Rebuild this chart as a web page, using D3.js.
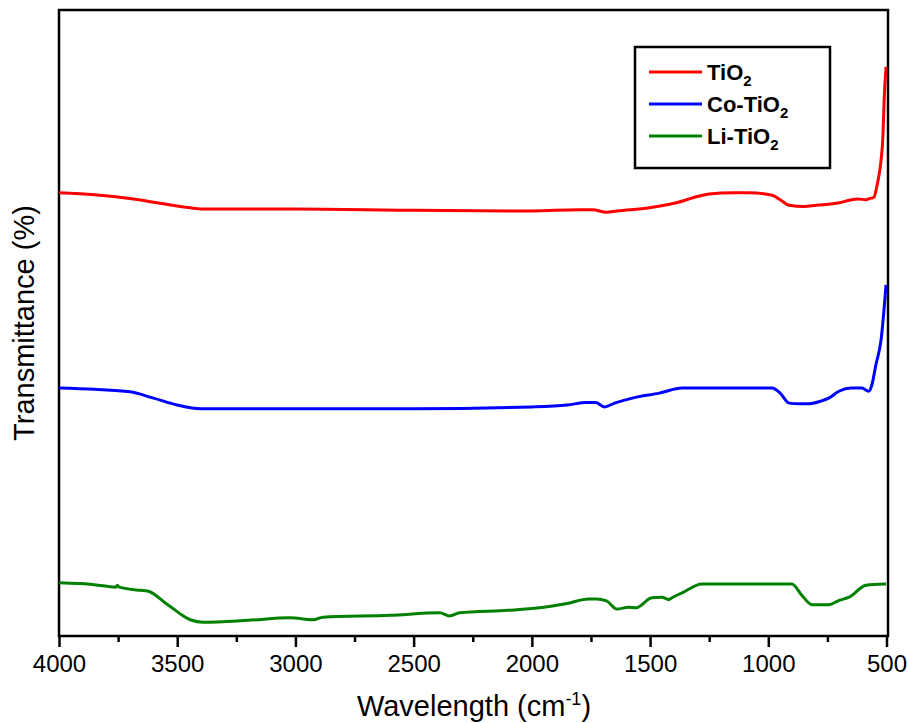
<!DOCTYPE html>
<html>
<head>
<meta charset="utf-8">
<script src="https://cdn.jsdelivr.net/npm/d3@7"></script>
<style>
  body { margin: 0; background: #fff; }
  text { font-family: Arial, "Liberation Sans", sans-serif; }
</style>
</head>
<body>
<div id="chart"></div>
<script>
/* DATA (wavenumber in cm-1, transmittance in arbitrary %) */
const seriesNames = ["TiO2", "Co-TiO2", "Li-TiO2"];
const seriesColors = ["#ff0000", "#0000ff", "#008000"];

const tio2Wave = [4000, 3850, 3685, 3600, 3520, 3445, 3400, 3000, 2500, 2000, 1800, 1744, 1684, 1640, 1503, 1389, 1300, 1250, 1150, 1081, 984, 950, 912, 850, 798, 700, 658, 620, 587, 570, 553, 540, 530, 523, 515, 510, 502];
const tio2T    = [70.8, 70.5, 69.8, 69.3, 68.8, 68.4, 68.2, 68.2, 68.0, 67.9, 68.1, 68.1, 67.7, 67.9, 68.4, 69.2, 70.2, 70.6, 70.8, 70.8, 70.4, 69.7, 68.8, 68.6, 68.8, 69.2, 69.6, 69.8, 69.7, 69.9, 70.1, 72.0, 74.0, 76.0, 80.0, 85.6, 90.9];

const coWave = [4000, 3850, 3700, 3600, 3500, 3400, 3000, 2500, 2000, 1850, 1769, 1730, 1693, 1650, 1575, 1461, 1364, 1200, 984, 950, 912, 870, 828, 780, 744, 701, 650, 604, 575, 562, 545, 523, 502];
const coT    = [39.6, 39.4, 39.0, 38.0, 36.9, 36.3, 36.3, 36.3, 36.6, 36.9, 37.3, 37.3, 36.6, 37.2, 38.0, 38.8, 39.6, 39.6, 39.6, 38.8, 37.2, 37.1, 37.1, 37.5, 38.0, 39.1, 39.6, 39.6, 39.1, 40.1, 43.3, 47.3, 56.1];

const liWave = [4000, 3850, 3760, 3753, 3745, 3656, 3626, 3540, 3445, 3390, 3200, 3023, 2926, 2884, 2600, 2390, 2348, 2306, 2100, 1968, 1850, 1760, 1727, 1684, 1640, 1590, 1560, 1493, 1450, 1420, 1412, 1364, 1280, 1100, 900, 860, 815, 744, 700, 658, 587, 502];
const liT    = [8.5, 8.2, 7.8, 8.1, 7.8, 7.3, 7.2, 5.0, 2.6, 2.2, 2.5, 2.9, 2.6, 3.0, 3.3, 3.7, 3.2, 3.7, 4.1, 4.5, 5.2, 5.9, 5.9, 5.6, 4.3, 4.6, 4.5, 6.1, 6.2, 5.8, 6.0, 6.9, 8.3, 8.3, 8.3, 6.6, 5.0, 5.0, 5.7, 6.2, 8.1, 8.3];

const xTicks = [4000, 3500, 3000, 2500, 2000, 1500, 1000, 500];
const xMinorTicks = [3750, 3250, 2750, 2250, 1750, 1250, 750];

const allWaves = [tio2Wave, coWave, liWave];
const allT = [tio2T, coT, liT];

/* LAYOUT */
const width = 907, height = 723;
const margin = { top: 10, right: 19, bottom: 87, left: 59 };

const svg = d3.select("#chart").append("svg")
  .attr("width", width)
  .attr("height", height);

const xScale = d3.scaleLinear()
  .domain([4000, 500])
  .range([margin.left, width - margin.right - 1.5]);

const yScale = d3.scaleLinear()
  .domain([0, 100])
  .range([height - margin.bottom, margin.top]);

const plotLeft = margin.left, plotRight = width - margin.right;
const plotTop = margin.top, plotBottom = height - margin.bottom;

// frame
svg.append("rect")
  .attr("x", plotLeft)
  .attr("y", plotTop)
  .attr("width", plotRight - plotLeft)
  .attr("height", plotBottom - plotTop)
  .attr("fill", "none")
  .attr("stroke", "#000")
  .attr("stroke-width", 2.5);

// x axis
const xAxis = d3.axisBottom(xScale)
  .tickValues(xTicks)
  .tickSize(11)
  .tickPadding(8)
  .tickFormat(d3.format("d"));

const xAxisGroup = svg.append("g")
  .attr("transform", `translate(0, ${plotBottom})`)
  .call(xAxis);
xAxisGroup.select(".domain").remove();
xAxisGroup.selectAll(".tick line").attr("stroke", "#000").attr("stroke-width", 2.5);
xAxisGroup.selectAll(".tick text")
  .attr("font-size", 24)
  .attr("fill", "#000");

const xMinor = d3.axisBottom(xScale)
  .tickValues(xMinorTicks)
  .tickSize(6)
  .tickFormat("");
const xMinorGroup = svg.append("g")
  .attr("transform", `translate(0, ${plotBottom})`)
  .call(xMinor);
xMinorGroup.select(".domain").remove();
xMinorGroup.selectAll(".tick line").attr("stroke", "#000").attr("stroke-width", 2.5);

// lines
const line = d3.line()
  .x(d => xScale(d[0]))
  .y(d => yScale(d[1]))
  .curve(d3.curveMonotoneX);

seriesNames.forEach((name, i) => {
  const pts = allWaves[i].map((w, j) => [w, allT[i][j]]);
  svg.append("path")
    .datum(pts)
    .attr("d", line)
    .attr("fill", "none")
    .attr("stroke", seriesColors[i])
    .attr("stroke-width", 3)
    .attr("stroke-linejoin", "round");
});

// axis titles
const xTitle = svg.append("text")
  .attr("x", 474)
  .attr("y", 716)
  .attr("text-anchor", "middle")
  .attr("font-size", 29)
  .attr("fill", "#000");
xTitle.append("tspan").text("Wavelength (cm");
xTitle.append("tspan").attr("font-size", 18).attr("dy", -11).text("-1");
xTitle.append("tspan").attr("dy", 11).text(")");

svg.append("text")
  .attr("transform", `translate(34, ${(plotTop + plotBottom) / 2}) rotate(-90)`)
  .attr("text-anchor", "middle")
  .attr("font-size", 29)
  .attr("fill", "#000")
  .text("Transmittance (%)");

// legend
const legend = svg.append("g");
legend.append("rect")
  .attr("x", 635)
  .attr("y", 47)
  .attr("width", 195)
  .attr("height", 121)
  .attr("fill", "#fff")
  .attr("stroke", "#000")
  .attr("stroke-width", 2.5);

const legendLabels = ["TiO", "Co-TiO", "Li-TiO"];
seriesNames.forEach((name, i) => {
  const yy = 72 + i * 32;
  legend.append("line")
    .attr("x1", 649).attr("x2", 702)
    .attr("y1", yy).attr("y2", yy)
    .attr("stroke", seriesColors[i])
    .attr("stroke-width", 3);
  const t = legend.append("text")
    .attr("x", 707)
    .attr("y", yy + 8)
    .attr("font-size", 22)
    .attr("font-weight", "bold")
    .attr("fill", "#000");
  t.append("tspan").text(legendLabels[i]);
  t.append("tspan").attr("font-size", 15).attr("dy", 6).text("2");
});
</script>
</body>
</html>
